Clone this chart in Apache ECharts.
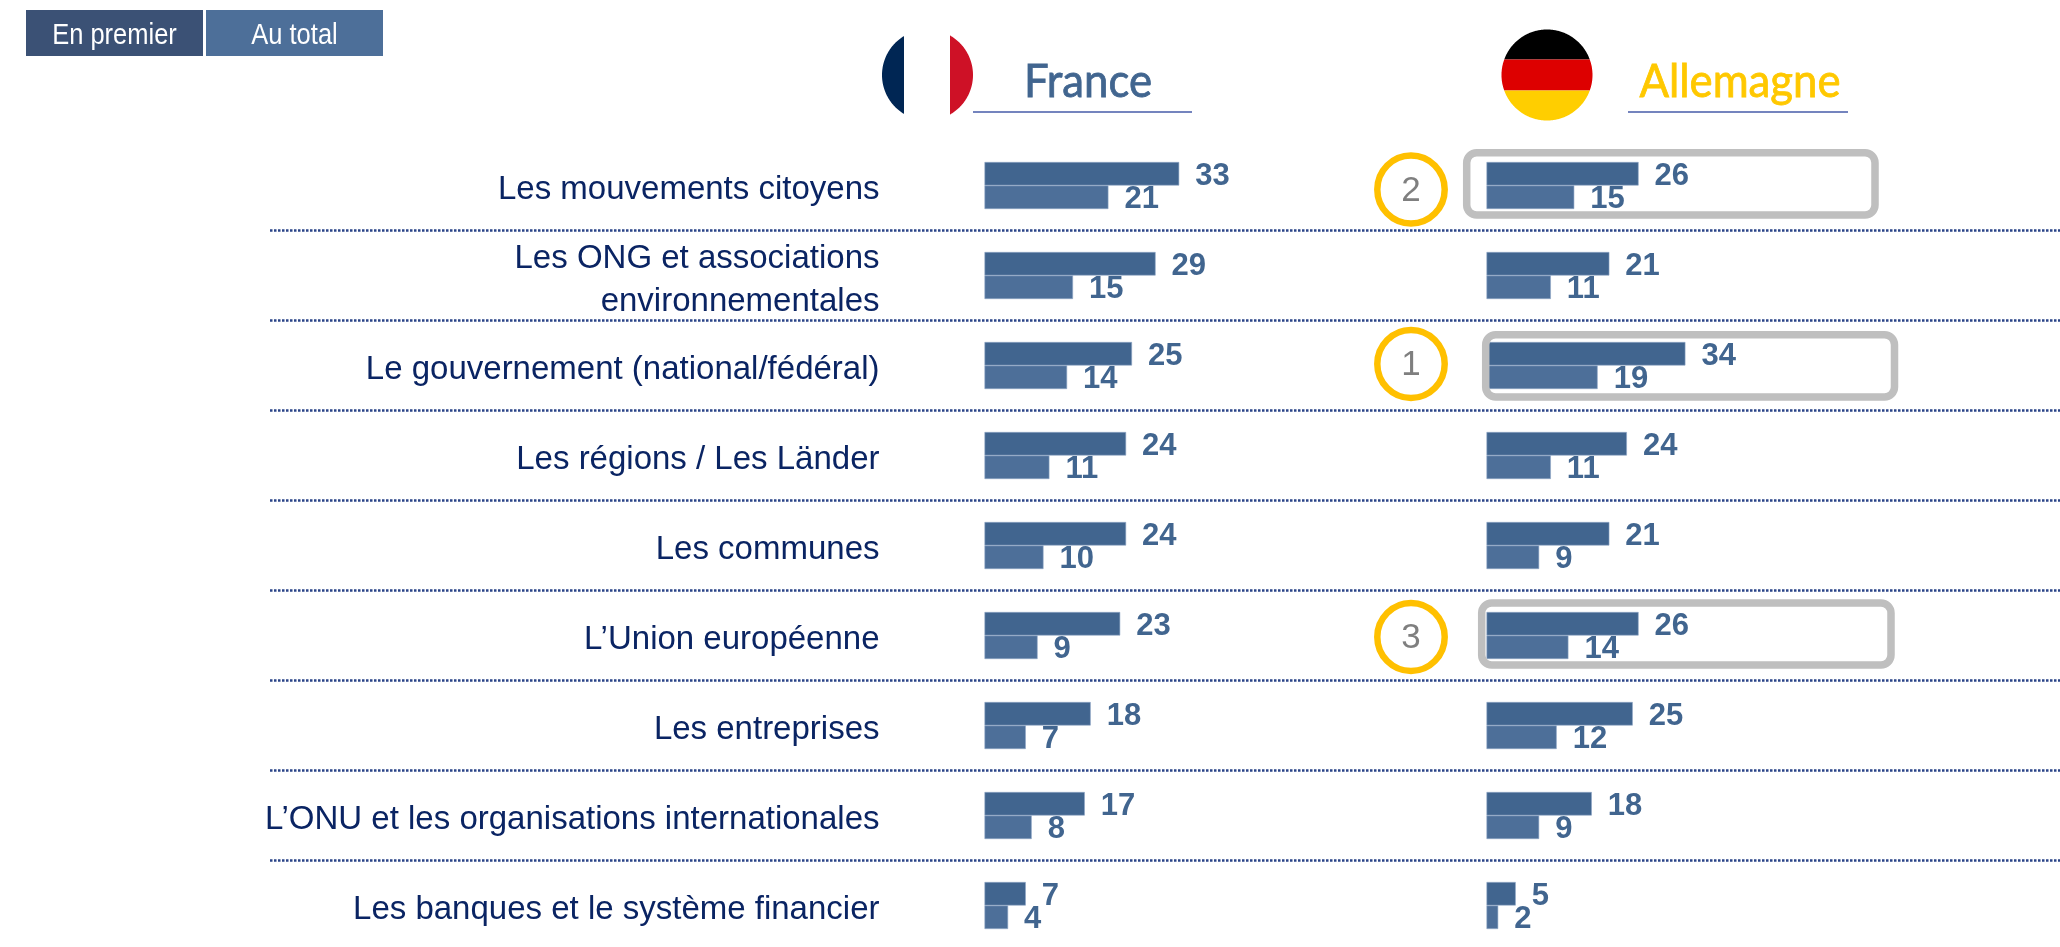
<!DOCTYPE html>
<html><head><meta charset="utf-8">
<style>html,body{margin:0;padding:0;background:#fff}#c{width:2060px;height:947px}</style>
<script src="https://cdn.jsdelivr.net/npm/echarts@6/dist/echarts.min.js"></script>
</head><body><div id="c"></div>
<script>
const categories = ["Les mouvements citoyens","Les ONG et associations\nenvironnementales","Le gouvernement (national/fédéral)","Les régions / Les Länder","Les communes","L’Union européenne","Les entreprises","L’ONU et les organisations internationales","Les banques et le système financier"];
const franceTotal = [33,29,25,24,24,23,18,17,7];
const franceFirst = [21,15,14,11,10,9,7,8,4];
const germanyTotal = [26,21,34,24,21,26,25,18,5];
const germanyFirst = [15,11,19,11,9,14,12,9,2];
const legendNames = ["En premier","Au total"];
const rankLabels = ["2","1","3"];

const C_TOP='#41658F', C_BOT='#4D6F99', NAVY='#0A2463';
const chart = echarts.init(document.getElementById('c'),null,{renderer:'canvas'});
const ROW_TOP=140.5, ROW_H=90, GH=ROW_H*categories.length;
function bar(name,data,color,idx,dy){
  return {name,type:'bar',data,xAxisIndex:idx,yAxisIndex:idx,barWidth:23.5,barGap:'0%',silent:true,animation:false,
    itemStyle:{color,borderColor:'#8FA6C6',borderWidth:0.6},
    label:{show:true,position:'right',distance:16,offset:[0,dy],color:C_TOP,fontFamily:'Liberation Sans',fontWeight:'bold',fontSize:31}};
}
function seg(cx,cy,r,x0,x1,y0,y1){ // polygon for the part of a circle inside a box
  const p=[];
  for(let i=0;i<360;i++){
    const a=i*Math.PI/180; 
    p.push([Math.min(x1,Math.max(x0,cx+r*Math.cos(a))),Math.min(y1,Math.max(y0,cy+r*Math.sin(a)))]);
  }
  return p;
}
function poly(points,fill){return {type:'polygon',shape:{points},style:{fill},z:50,silent:true};}
function rank(cx,cy,t){return [
  {type:'ellipse',shape:{cx,cy,rx:33.7,ry:34},style:{fill:'#fff',stroke:'#FFC000',lineWidth:6.5},z:60,silent:true},
  {type:'text',style:{x:cx,y:cy+1.5,text:t,fill:'#7F7F7F',font:'35px "Liberation Sans"',align:'center',verticalAlign:'middle'},z:61,silent:true}
];}
function box(x,y,w,h){return {type:'rect',shape:{x,y,width:w,height:h,r:10},style:{fill:'none',stroke:'#BFBFBF',lineWidth:7.5},z:55,silent:true};}
function swatch(x,w,fill,t){return [
  {type:'rect',shape:{x,y:10,width:w,height:46},style:{fill},z:60,silent:true},
  {type:'text',x:x+w/2,y:36,scaleX:0.85,style:{x:0,y:0,text:t,fill:'#fff',font:'30px "Liberation Sans"',align:'center',verticalAlign:'middle'},z:61,silent:true}
];}
function title(x,t,fill){return {type:'text',x,y:82.5,scaleX:0.95,style:{x:0,y:0,text:t,fill,stroke:fill,lineWidth:0.8,font:'46px Lato',align:'center',verticalAlign:'middle'},z:60,silent:true};}
function rule(x1,x2){return {type:'line',shape:{x1,y1:112,x2,y2:112},style:{stroke:'#7484BE',lineWidth:2},z:60,silent:true};}
const graphics=[
  ...swatch(26,177,'#3B5175',legendNames[0]),
  ...swatch(206,177,'#4D6F99',legendNames[1]),
  poly(seg(927.5,75,45.5,0,904,0,947),'#002654'),
  poly(seg(927.5,75,45.5,950,2060,0,947),'#CE1126'),
  poly(seg(1547,75,45.5,0,2060,0,59.5),'#000000'),
  poly(seg(1547,75,45.5,0,2060,59.5,90.5),'#DD0000'),
  poly(seg(1547,75,45.5,0,2060,90.5,947),'#FFCE00'),
  title(1088,'France','#41658F'),rule(973,1192),
  title(1740,'Allemagne','#FFC800'),rule(1628,1848),
  box(1466.7,152.7,408.3,62.3),box(1485.7,334.7,408.8,62.3),box(1481.7,603,409.3,62),
  ...rank(1411,189.5,rankLabels[0]),...rank(1411,364,rankLabels[1]),...rank(1411,637,rankLabels[2])
];
const hidden={show:false};
function catAxis(idx,extra){return Object.assign({type:'category',gridIndex:idx,data:categories,inverse:true,axisLine:hidden,axisTick:hidden,axisLabel:hidden,splitLine:hidden},extra);}
function valAxis(idx,max){return {type:'value',gridIndex:idx,min:0,max,axisLine:hidden,axisTick:hidden,axisLabel:hidden,splitLine:hidden};}
const gridBase={top:ROW_TOP,height:GH,outerBoundsMode:'none',containLabel:false};
chart.setOption({
  animation:false,backgroundColor:'#fff',
  grid:[
    Object.assign({left:270,width:1790},gridBase),
    Object.assign({left:984.5,width:590},gridBase),
    Object.assign({left:1486.5,width:585},gridBase),
    Object.assign({left:984.5,width:590},gridBase,{top:ROW_TOP+4.5})
  ],
  xAxis:[valAxis(0,100),valAxis(1,100),valAxis(2,100),valAxis(3,100)],
  yAxis:[
    catAxis(0,{splitLine:{show:true,showMinLine:false,showMaxLine:false,lineStyle:{type:[2.5,1.5],color:'#2A4488',width:2.5}}}),
    catAxis(1),
    catAxis(2),
    catAxis(3,{axisLabel:{show:true,interval:0,margin:105,color:NAVY,fontFamily:'Liberation Sans',fontSize:33,align:'right',lineHeight:43}})
  ],
  series:[
    bar('Au total',franceTotal,C_TOP,1,3),bar('En premier',franceFirst,C_BOT,1,2.5),
    bar('Au total',germanyTotal,C_TOP,2,3),bar('En premier',germanyFirst,C_BOT,2,2.5)
  ],
  graphic:{elements:graphics}
});
</script></body></html>
